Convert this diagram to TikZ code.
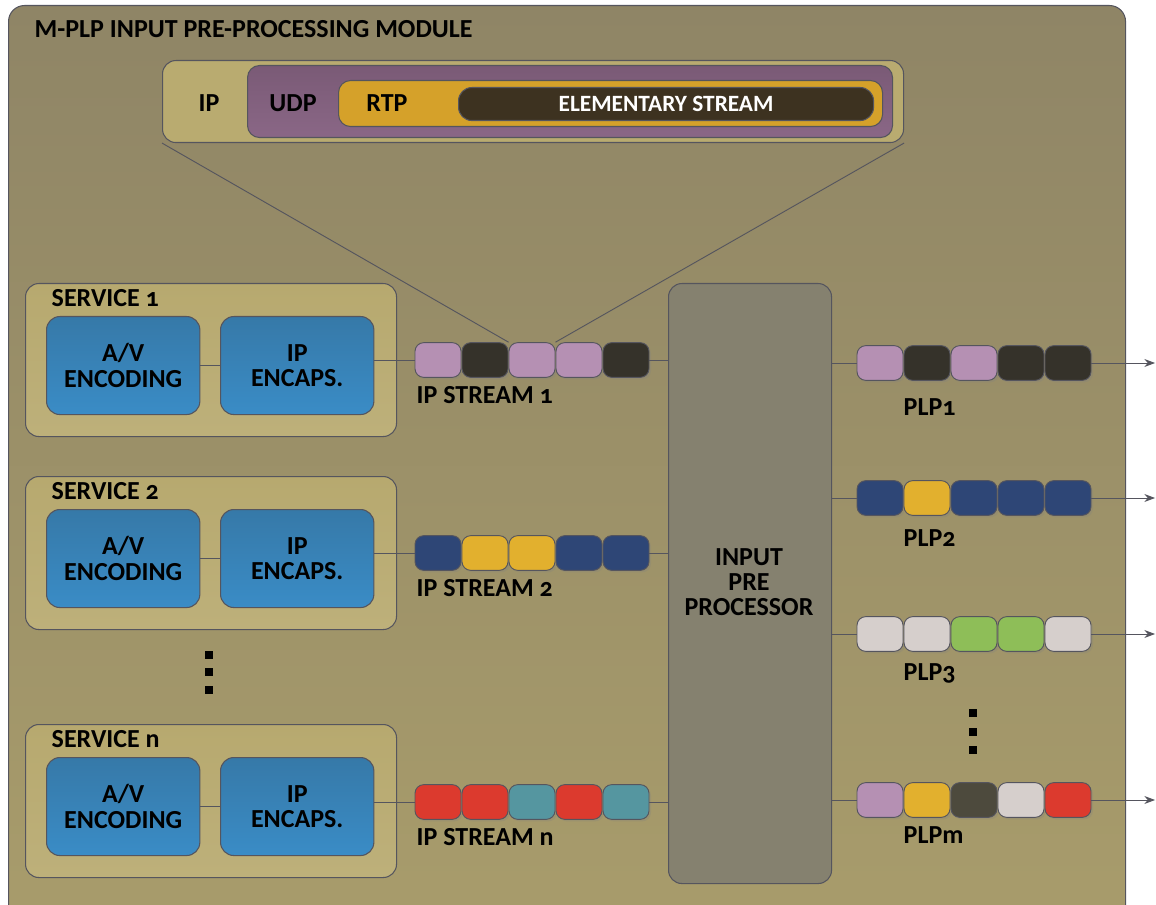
\documentclass[tikz,border=0pt]{standalone}
\usepackage{fontspec}
\setmainfont{Carlito}[Numbers=OldStyle]
\usetikzlibrary{arrows.meta,shadows}
\definecolor{modtop}{HTML}{8F8566}
\definecolor{modbot}{HTML}{A89C6B}
\definecolor{edge}{HTML}{55555E}
\definecolor{svc}{HTML}{B7A96F}
\definecolor{svc2}{HTML}{BDB07A}
\definecolor{blu}{HTML}{3679A8}
\definecolor{blu2}{HTML}{3A8CC6}
\definecolor{ipc}{HTML}{B9AB70}
\definecolor{udpc}{HTML}{7A5A76}
\definecolor{udpc2}{HTML}{8A6786}
\definecolor{rtpc}{HTML}{D5A12A}
\definecolor{esc}{HTML}{3D3220}
\definecolor{procc}{HTML}{85816F}
\definecolor{pk}{HTML}{B590B3}
\definecolor{dk}{HTML}{35322A}
\definecolor{nv}{HTML}{2E4676}
\definecolor{ye}{HTML}{E2B02E}
\definecolor{lg}{HTML}{D6CFCC}
\definecolor{gr}{HTML}{8EBE58}
\definecolor{rd}{HTML}{DC3A2E}
\definecolor{tl}{HTML}{5596A0}
\definecolor{dg}{HTML}{4D4A3D}
\begin{document}
\begin{tikzpicture}[x=0.75pt,y=-0.75pt,
  lbl/.style={font=\bfseries\fontsize{19.5}{19}\selectfont, text=black},
  box/.style={draw=edge, line width=0.8pt, rounded corners=9pt, inner sep=0pt},
  svcbox/.style={box, rounded corners=10pt, top color=svc, bottom color=svc2},
  bluebox/.style={box, rounded corners=10pt, top color=blu, bottom color=blu2, minimum width=115pt, minimum height=73.5pt, align=center, lbl},
  pkt/.style={draw=edge, line width=0.7pt, rounded corners=6.5pt, minimum width=34.5pt, minimum height=26pt, inner sep=0pt, drop shadow={opacity=0.25, shadow xshift=1.5pt, shadow yshift=-1.5pt}},
  wire/.style={draw=edge, line width=0.7pt},
  dotsq/.style={fill=black, minimum size=6.5pt, inner sep=0pt},
]
\useasboundingbox (0,0) rectangle (1156,905);
\fill[white] (0,0) rectangle (1156,905);
% outer module
\node[box, rounded corners=12pt, top color=modtop, bottom color=modbot, minimum width=837.75pt, minimum height=690pt, anchor=north west] (module) at (8,5) {};
\node[lbl, anchor=west] (title) at (30,29) {M-PLP INPUT PRE-PROCESSING MODULE};

% header packet
\node[box, fill=ipc, minimum width=555.75pt, minimum height=61.5pt, anchor=north west, rounded corners=10pt] (iph) at (162,60) {};
\node[box, top color=udpc, bottom color=udpc2, minimum width=483.75pt, minimum height=54pt, anchor=north west] (udph) at (247,65) {};
\node[box, fill=rtpc, minimum width=408pt, minimum height=34.5pt, anchor=north west] (rtph) at (338,80) {};
\node[box, fill=esc, rounded corners=10pt, minimum width=311.25pt, minimum height=24.75pt, anchor=north west, text=white, font=\bfseries\fontsize{17.5}{19}\selectfont] (esh) at (458,87) {ELEMENTARY STREAM};
\node[lbl] (iplbl) at (209,103) {IP};
\node[lbl] (udplbl) at (293,103) {UDP};
\node[lbl] (rtplbl) at (387,103) {RTP};

% input pre processor
\node[box, rounded corners=10pt, fill=procc, minimum width=122.25pt, minimum height=450pt, anchor=north west] (proc) at (668,283) {};
\node[lbl, align=center] (proclbl) at (749,582) {INPUT\\PRE\\PROCESSOR};

% services
\foreach \s/\yy/\name in {1/283/1, 2/476/2, n/724/n}{
  \node[svcbox, minimum width=278.25pt, minimum height=114.75pt, anchor=north west] (svc\s) at (25,\yy) {};
  \node[lbl, anchor=west] (svclbl\s) at (47,\yy+15) {SERVICE \name};
  \node[bluebox, anchor=north west] (av\s) at (46,\yy+33) {A/V\\ENCODING};
  \node[bluebox, anchor=north west] (enc\s) at (220,\yy+33) {IP\\ENCAPS.};
  \draw[wire] (av\s) -- (enc\s);
}

% IP streams
\foreach \c [count=\i] in {pk,dk,pk,pk,dk}
  \node[pkt, fill=\c] (sa\i) at ({438+(\i-1)*47},360) {};
\foreach \c [count=\i] in {nv,ye,ye,nv,nv}
  \node[pkt, fill=\c] (sb\i) at ({438+(\i-1)*47},553) {};
\foreach \c [count=\i] in {rd,rd,tl,rd,tl}
  \node[pkt, fill=\c] (sc\i) at ({438+(\i-1)*47},802) {};
\node[lbl, anchor=west] (sal) at (412,395) {IP STREAM 1};
\node[lbl, anchor=west] (sbl) at (412,588) {IP STREAM 2};
\node[lbl, anchor=west] (scl) at (412,837) {IP STREAM n};

\draw[wire] (enc1.east |- sa1) -- (sa1.west);
\draw[wire] (enc2.east |- sb1) -- (sb1.west);
\draw[wire] (encn.east |- sc1) -- (sc1.west);
\draw[wire] (sa5.east) -- (proc.west |- sa5);
\draw[wire] (sb5.east) -- (proc.west |- sb5);
\draw[wire] (sc5.east) -- (proc.west |- sc5);

% header zoom lines
\draw[wire] (iph.south west) -- (sa3.north west);
\draw[wire] (iph.south east) -- (sa3.north east);

% PLPs
\foreach \c [count=\i] in {pk,dk,pk,dk,dk}
  \node[pkt, fill=\c] (pa\i) at ({880+(\i-1)*47},363) {};
\foreach \c [count=\i] in {nv,ye,nv,nv,nv}
  \node[pkt, fill=\c] (pb\i) at ({880+(\i-1)*47},498) {};
\foreach \c [count=\i] in {lg,lg,gr,gr,lg}
  \node[pkt, fill=\c] (pc\i) at ({880+(\i-1)*47},634) {};
\foreach \c [count=\i] in {pk,ye,dg,lg,rd}
  \node[pkt, fill=\c] (pd\i) at ({880+(\i-1)*47},800) {};
\node[lbl, anchor=west] (pal) at (899,407) {PLP1};
\node[lbl, anchor=west] (pbl) at (899,538) {PLP2};
\node[lbl, anchor=west] (pcl) at (899,673) {PLP3};
\node[lbl, anchor=west] (pdl) at (899,835) {PLPm};

\coordinate (oa) at (1155,363);
\coordinate (ob) at (1155,498);
\coordinate (oc) at (1155,634);
\coordinate (od) at (1155,800);
\foreach \p/\o in {pa/oa,pb/ob,pc/oc,pd/od}{
  \draw[wire] (proc.east |- \p1) -- (\p1.west);
  \draw[wire, -{Stealth[length=8pt,width=6pt]}] (\p5.east) -- (\o);
}

% ellipsis dots
\node[dotsq] (d1) at (209,655) {};
\node[dotsq] (d2) at (209,672) {};
\node[dotsq] (d3) at (209,690) {};
\node[dotsq] (d4) at (973,713) {};
\node[dotsq] (d5) at (973,732) {};
\node[dotsq] (d6) at (973,750) {};
\end{tikzpicture}
\end{document}
